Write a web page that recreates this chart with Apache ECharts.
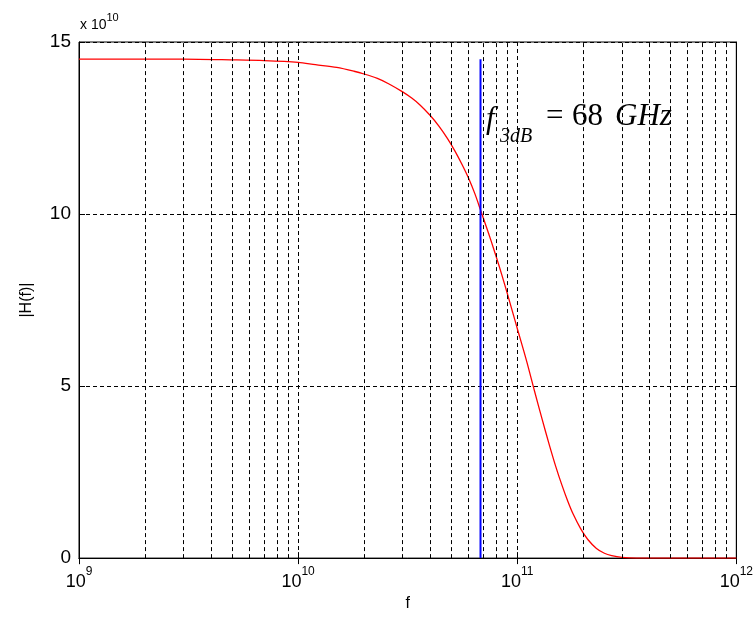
<!DOCTYPE html>
<html><head><meta charset="utf-8">
<script src="https://cdn.jsdelivr.net/npm/echarts@6/dist/echarts.min.js"></script>
<style>html,body{margin:0;padding:0;background:#fff}#c{width:756px;height:617px}</style>
</head><body><div id="c"></div>
<script>
// frequency (GHz)
const freqGHz = [1, 2, 3, 5, 7, 10, 12, 15, 18, 20, 23, 26, 30, 33, 36, 40, 44, 48, 52, 56, 60, 64, 68, 72, 76, 80, 85, 90, 95, 100, 110, 120, 130, 140, 150, 160, 170, 180, 195, 210, 230, 250, 270, 300, 350, 500, 1000];
// |H(f)| in units of 1e10
const magnitude = [14.50, 14.50, 14.50, 14.48, 14.46, 14.41, 14.34, 14.26, 14.15, 14.07, 13.94, 13.78, 13.55, 13.37, 13.17, 12.87, 12.55, 12.20, 11.83, 11.44, 11.04, 10.60, 10.12, 9.66, 9.22, 8.78, 8.24, 7.70, 7.18, 6.68, 5.76, 4.85, 4.03, 3.30, 2.66, 2.12, 1.66, 1.28, 0.85, 0.54, 0.28, 0.14, 0.07, 0.02, 0.00, 0.00, 0.00];
// 3 dB cutoff marker
const cutoffGHz = 68;
const cutoffSpan = [0, 14.5];
// y tick labels
const yTicks = [0, 5, 10, 15];
// minor log grid multipliers and decades (Hz)
const minorMultipliers = [2, 3, 4, 5, 6, 7, 8, 9];
const decades = [1e9, 1e10, 1e11];
const minorGrid = [];
decades.forEach(d => minorMultipliers.forEach(m => minorGrid.push(m * d)));

const GHz = 1e9;
const chart = echarts.init(document.getElementById('c'), null, {renderer: 'canvas'});
const sans = '"Liberation Sans", Arial, Helvetica, sans-serif';
const serif = '"Liberation Serif", "Times New Roman", serif';
const dash = [4, 3];

chart.setOption({
  animation: false,
  backgroundColor: '#fff',
  grid: {left: 79, top: 42, width: 659, height: 518, show: true, borderColor: '#000', borderWidth: 1, backgroundColor: '#fff'},
  xAxis: [{
    type: 'log', logBase: 10, min: 1e9, max: 1e12,
    name: 'f', nameLocation: 'middle', nameGap: 34,
    nameTextStyle: {fontFamily: sans, fontSize: 16, color: '#000'},
    axisLine: {lineStyle: {color: '#000', width: 1}},
    axisTick: {inside: true, length: 6, lineStyle: {color: '#000'}},
    axisLabel: {
      margin: 8, color: '#000',
      formatter: v => '{b|10}{e|' + Math.round(Math.log10(v)) + '}',
      rich: {
        b: {fontFamily: sans, fontSize: 18, color: '#000'},
        e: {fontFamily: sans, fontSize: 12, color: '#000', padding: [0, 0, 20, 0]}
      }
    },
    splitLine: {show: true, lineStyle: {color: '#000', type: dash, width: 1}}
  }, {
    type: 'log', logBase: 10, min: 1e9, max: 1e12, position: 'top',
    axisLine: {lineStyle: {color: '#000'}},
    axisTick: {inside: true, length: 6, lineStyle: {color: '#000'}},
    axisLabel: {show: false}, splitLine: {show: false}
  }],
  yAxis: [{
    type: 'value', min: 0, max: 15, interval: 5,
    name: '|H(f)|', nameLocation: 'middle', nameGap: 44, nameRotate: 90,
    nameTextStyle: {fontFamily: sans, fontSize: 16, color: '#000'},
    axisLine: {show: true, lineStyle: {color: '#000', width: 1}},
    axisTick: {show: true, inside: true, length: 6, lineStyle: {color: '#000'}},
    axisLabel: {margin: 8, fontFamily: sans, fontSize: 19, color: '#000',
      formatter: v => yTicks.indexOf(v) >= 0 ? String(v) : ''},
    splitLine: {show: true, lineStyle: {color: '#000', type: dash, width: 1}}
  }, {
    type: 'value', min: 0, max: 15, interval: 5, position: 'right',
    axisLine: {show: true, lineStyle: {color: '#000'}},
    axisTick: {show: true, inside: true, length: 6, lineStyle: {color: '#000'}},
    axisLabel: {show: false}, splitLine: {show: false}
  }],
  series: [{
    type: 'line', data: [], silent: true, z: 1,
    markLine: {
      silent: true, symbol: ['none', 'none'], label: {show: false},
      lineStyle: {color: '#000', type: dash, width: 1},
      data: minorGrid.map(v => ({xAxis: v}))
    }
  }, {
    type: 'line', z: 3,
    data: freqGHz.map((f, i) => [f * GHz, magnitude[i]]),
    showSymbol: false, smooth: 0.3,
    lineStyle: {color: '#ff0000', width: 1.3}
  }, {
    type: 'line', z: 4,
    data: cutoffSpan.map(v => [cutoffGHz * GHz, v]),
    showSymbol: false,
    lineStyle: {color: '#0000ff', width: 2}
  }],
  graphic: [
    {type: 'text', left: 80, top: 12, silent: true,
      style: {text: '{a|x 10}{e|10}', rich: {
        a: {fontFamily: sans, fontSize: 14, fill: '#000'},
        e: {fontFamily: sans, fontSize: 11, fill: '#000', padding: [0, 0, 16, 0]}
      }}},
    {type: 'text', x: 486, y: 120, silent: true,
      style: {text: 'f', font: 'italic 31px ' + serif, fill: '#000', verticalAlign: 'middle'}},
    {type: 'text', x: 500, y: 137, silent: true,
      style: {text: '3dB', font: 'italic 20px ' + serif, fill: '#000', verticalAlign: 'middle'}},
    {type: 'text', x: 546, y: 117, silent: true,
      style: {text: '=', font: '31px ' + serif, fill: '#000', verticalAlign: 'middle'}},
    {type: 'text', x: 572, y: 117, silent: true,
      style: {text: '68', font: '31px ' + serif, fill: '#000', verticalAlign: 'middle'}},
    {type: 'text', x: 615, y: 117, silent: true,
      style: {text: 'GHz', font: 'italic 31px ' + serif, fill: '#000', verticalAlign: 'middle'}}
  ]
});
</script>
</body></html>
